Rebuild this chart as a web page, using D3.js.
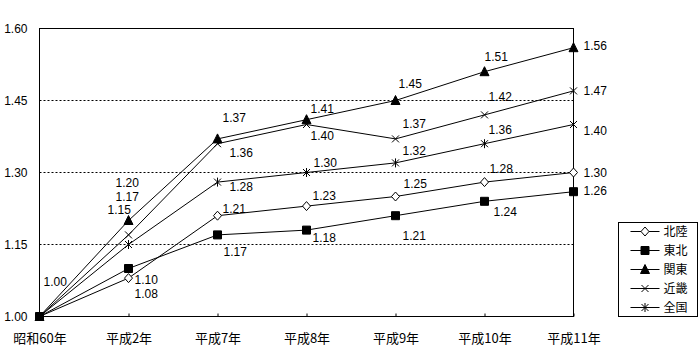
<!DOCTYPE html>
<html>
<head>
<meta charset="utf-8">
<script src="https://cdn.jsdelivr.net/npm/d3@7"></script>
<style>
  body { margin: 0; background: #fff; }
  text { font-family: "Liberation Sans", "Noto Sans CJK JP", sans-serif; font-size: 12px; fill: #000; }
  text.jp { font-family: "Noto Sans CJK JP", sans-serif; }
  .x-axis text { font-family: "Noto Sans CJK JP", sans-serif; font-size: 13px; }
</style>
</head>
<body>
<div id="chart"></div>
<script>
const categories = ["昭和60年", "平成2年", "平成7年", "平成8年", "平成9年", "平成10年", "平成11年"];
const hokuriku = [1.00, 1.08, 1.21, 1.23, 1.25, 1.28, 1.30];
const tohoku   = [1.00, 1.10, 1.17, 1.18, 1.21, 1.24, 1.26];
const kanto    = [1.00, 1.20, 1.37, 1.41, 1.45, 1.51, 1.56];
const kinki    = [1.00, 1.17, 1.36, 1.40, 1.37, 1.42, 1.47];
const zenkoku  = [1.00, 1.15, 1.28, 1.30, 1.32, 1.36, 1.40];
const yTicks = [1.00, 1.15, 1.30, 1.45, 1.60];

// label placement (dx, dy from the point; null = no label)
const labelPos = {
  "北陸": [null, [6, 20], [5, -3], [6, -6], [8, -9], [5, -9], [10, 4]],
  "東北": [[4, -31], [6, 15], [6, 21], [6, 12], [7, 24], [9, 15], [10, 3]],
  "関東": [null, [-13, -34], [5, -17], [4, -7], [3, -13], [0, -11], [10, 2]],
  "近畿": [null, [-13, -34], [12, 13], [4, 15], [7, -11], [4, -14], [10, 4]],
  "全国": [null, [-21, -31], [12, 9], [7, -6], [7, -8], [4, -10], [10, 10]]
};

const series = [
  { name: "北陸", values: hokuriku, marker: "diamond" },
  { name: "東北", values: tohoku, marker: "square" },
  { name: "関東", values: kanto, marker: "triangle" },
  { name: "近畿", values: kinki, marker: "cross" },
  { name: "全国", values: zenkoku, marker: "star" }
];

const width = 700, height = 360;
const margin = { left: 39, top: 28 };
const plotW = 534, plotH = 288;

const svg = d3.select("#chart").append("svg")
  .attr("width", width)
  .attr("height", height);

const g = svg.append("g")
  .attr("transform", `translate(${margin.left + 0.5},${margin.top + 0.5})`);

const x = d3.scalePoint().domain(categories).range([0, plotW]).padding(0);
const y = d3.scaleLinear().domain([1.0, 1.6]).range([plotH, 0]);

// dotted grid
g.append("g")
  .selectAll("line")
  .data(yTicks.filter(d => d > 1.0 && d < 1.6))
  .join("line")
  .attr("x1", 0).attr("x2", plotW)
  .attr("y1", d => Math.round(y(d))).attr("y2", d => Math.round(y(d)))
  .attr("stroke", "#000")
  .attr("stroke-dasharray", "2,2");

// frame
g.append("rect")
  .attr("width", plotW).attr("height", plotH)
  .attr("fill", "none").attr("stroke", "#000");

// x axis
const xAxis = g.append("g")
  .attr("class", "x-axis")
  .attr("transform", `translate(0,${plotH})`)
  .call(d3.axisBottom(x).tickSizeInner(-3).tickSizeOuter(0).tickPadding(17));
xAxis.select(".domain").remove();
xAxis.selectAll("line").attr("stroke", "#000");
xAxis.attr("font-family", null).attr("font-size", null);
xAxis.selectAll("text").attr("fill", "#000");

// y axis labels
g.append("g")
  .selectAll("text")
  .data(yTicks)
  .join("text")
  .attr("x", -12)
  .attr("y", d => y(d))
  .attr("dy", "0.36em")
  .attr("text-anchor", "end")
  .text(d => d.toFixed(2));

function markerPath(type) {
  switch (type) {
    case "diamond": return "M0,-4.5L4,0L0,4.5L-4,0Z";
    case "square": return "M-4,-4H4V4H-4Z";
    case "triangle": return "M0,-5L4.5,4L-4.5,4Z";
    case "cross": return "M-3.5,-3.5L3.5,3.5M-3.5,3.5L3.5,-3.5";
    case "star": return "M-3.5,-3.5L3.5,3.5M-3.5,3.5L3.5,-3.5M0,-4.5V4.5";
  }
}

function drawMarker(sel, type) {
  const p = sel.append("path").attr("d", markerPath(type)).attr("stroke", "#000").attr("stroke-width", 1);
  if (type === "diamond") p.attr("fill", "#fff");
  else if (type === "square" || type === "triangle") p.attr("fill", "#000");
  else p.attr("fill", "none");
}

const line = d3.line()
  .x((d, i) => x(categories[i]))
  .y(d => y(d));

series.forEach(s => {
  g.append("path")
    .datum(s.values)
    .attr("d", line)
    .attr("fill", "none")
    .attr("stroke", "#000")
    .attr("stroke-width", 1);
});

series.forEach(s => {
  s.values.forEach((v, i) => {
    const m = g.append("g").attr("transform", `translate(${x(categories[i])},${y(v)})`);
    drawMarker(m, s.marker);
  });
});

series.forEach(s => {
  s.values.forEach((v, i) => {
    const p = labelPos[s.name][i];
    if (!p) return;
    g.append("text")
      .attr("x", x(categories[i]) + p[0])
      .attr("y", y(v) + p[1])
      .text(v.toFixed(2));
  });
});

// legend
const legend = svg.append("g").attr("transform", "translate(618.5,222.5)");
legend.append("rect")
  .attr("width", 79).attr("height", 94)
  .attr("fill", "#fff").attr("stroke", "#000");
series.forEach((s, i) => {
  const row = legend.append("g").attr("transform", `translate(0,${9 + i * 19})`);
  row.append("line").attr("x1", 12).attr("x2", 41).attr("stroke", "#000");
  const m = row.append("g").attr("transform", "translate(26.5,0)");
  drawMarker(m, s.marker);
  row.append("text").attr("class", "jp").attr("x", 45).attr("dy", "0.38em").text(s.name);
});
</script>
</body>
</html>
